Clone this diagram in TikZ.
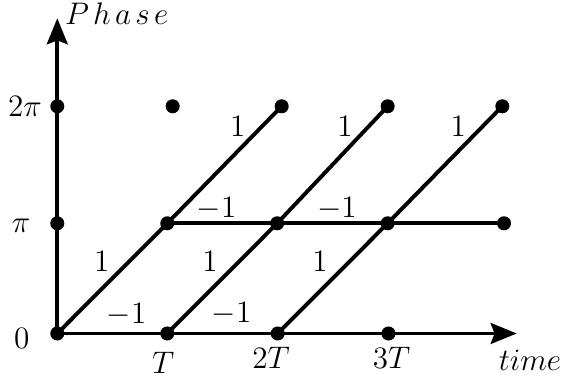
\documentclass[tikz,border=0pt]{standalone}
\usepackage{tikz}
\usetikzlibrary{arrows.meta, positioning}

\begin{document}
\begin{tikzpicture}[
            dot/.style={circle, fill=black, inner sep=0pt, minimum size=5.4pt},
            seg/.style={line width=1.5pt},
            axis/.style={seg, -{Stealth[length=10pt, width=8pt, inset=1.5pt]}},
            lbl/.style={inner sep=1pt, font=\large}
        ]
            \useasboundingbox (-0.775,-0.670) rectangle (6.896,4.512);

            % grid points
            \node[dot] (o) at (0,0) {};
            \node[dot] (t1) at (1.488,0) {};
            \node[dot] (t2) at (2.982,0) {};
            \node[dot] (t3) at (4.481,0) {};
            \node[dot] (p0) at (0,1.491) {};
            \node[dot] (p1) at (1.488,1.491) {};
            \node[dot] (p2) at (2.975,1.491) {};
            \node[dot] (p3) at (4.470,1.491) {};
            \node[dot] (p4) at (6.044,1.491) {};
            \node[dot] (q0) at (0,3.074) {};
            \node[dot] (q1) at (1.561,3.074) {};
            \node[dot] (q2) at (3.036,3.074) {};
            \node[dot] (q3) at (4.470,3.074) {};
            \node[dot] (q4) at (6.021,3.074) {};
            \coordinate (xend) at (6.216,0);
            \coordinate (yend) at (0,4.265);

            % axes
            \draw[axis] (o.center) -- (xend);
            \draw[axis] (o.center) -- (yend);
            \node[lbl] (ylab) at (0.804,4.33) {$P\mkern2.5mu h\mkern2.5mu a\mkern2.5mu s\mkern2.5mu e$};
            \node[lbl] (xlab) at (6.396,-0.359) {$time$};

            % tick labels
            \node[lbl] (l0) at (-0.479,-0.065) {$0$};
            \node[lbl] (lpi) at (-0.491,1.455) {$\pi$};
            \node[lbl] (l2pi) at (-0.437,3.069) {$2\pi$};
            \node[lbl] (lT) at (1.434,-0.403) {$T$};
            \node[lbl] (l2T) at (2.891,-0.336) {$2T$};
            \node[lbl] (l3T) at (4.524,-0.336) {$3T$};

            % transitions
            \draw[seg] (o.center) -- (p1.center) -- (q2.center);
            \draw[seg] (t1.center) -- (p2.center) -- (q3.center);
            \draw[seg] (t2.center) -- (p3.center) -- (q4.center);
            \draw[seg] (p1.center) -- (p2.center) -- (p3.center) -- (p4.center);

            % weights
            \node[lbl] (w1) at (0.601,0.971) {$1$};
            \node[lbl] (w2) at (2.066,0.971) {$1$};
            \node[lbl] (w3) at (3.554,0.971) {$1$};
            \node[lbl] (w4) at (2.440,2.807) {$1$};
            \node[lbl] (w5) at (3.893,2.807) {$1$};
            \node[lbl] (w6) at (5.426,2.807) {$1$};
            \node[lbl] (m1) at (0.939,0.260) {$-1$};
            \node[lbl] (m2) at (2.360,0.273) {$-1$};
            \node[lbl] (m3) at (2.157,1.694) {$-1$};
            \node[lbl] (m4) at (3.784,1.694) {$-1$};
        \end{tikzpicture}
\end{document}
